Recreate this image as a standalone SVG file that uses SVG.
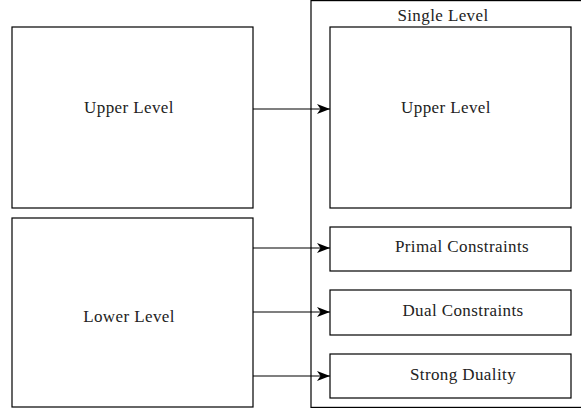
<svg xmlns="http://www.w3.org/2000/svg" width="581" height="412" viewBox="0 0 581 412">
<style>
.box{fill:#fff;stroke:#000;stroke-width:1.2}
.lbl{font-family:"Liberation Serif","Times New Roman",serif;font-size:17px;letter-spacing:0.4px;fill:#222;text-anchor:middle;dominant-baseline:central}
.con{stroke:#000;stroke-width:1.2;fill:none;marker-end:url(#arr)}
</style>
<defs>
<marker id="arr" markerWidth="14" markerHeight="10" refX="13" refY="5" orient="auto" markerUnits="userSpaceOnUse">
<path d="M0,0 L13,5 L0,10 L3.5,5 Z" fill="#000"/>
</marker>
</defs>
<rect width="581" height="412" fill="#fff"/>
<g id="single-level">
<rect class="box" x="311" y="0.6" width="272" height="406.8"/>
<text class="lbl" x="443" y="15">Single Level</text>
</g>
<g id="upper-left">
<rect class="box" x="12" y="27" width="241" height="181"/>
<text class="lbl" x="129" y="107">Upper Level</text>
</g>
<g id="lower-left">
<rect class="box" x="12" y="218" width="241" height="189"/>
<text class="lbl" x="129" y="316">Lower Level</text>
</g>
<g id="upper-right">
<rect class="box" x="330" y="27" width="241" height="181"/>
<text class="lbl" x="446" y="107">Upper Level</text>
</g>
<g id="primal">
<rect class="box" x="330" y="227" width="241" height="44"/>
<text class="lbl" x="462" y="246">Primal Constraints</text>
</g>
<g id="dual">
<rect class="box" x="330" y="290" width="241" height="45"/>
<text class="lbl" x="463" y="310">Dual Constraints</text>
</g>
<g id="strong">
<rect class="box" x="330" y="354" width="241" height="44"/>
<text class="lbl" x="463" y="374">Strong Duality</text>
</g>
<g id="connectors">
<line class="con" x1="253" y1="109" x2="330" y2="109"/>
<line class="con" x1="253" y1="248" x2="330" y2="248"/>
<line class="con" x1="253" y1="312" x2="330" y2="312"/>
<line class="con" x1="253" y1="376" x2="330" y2="376"/>
</g>
</svg>
